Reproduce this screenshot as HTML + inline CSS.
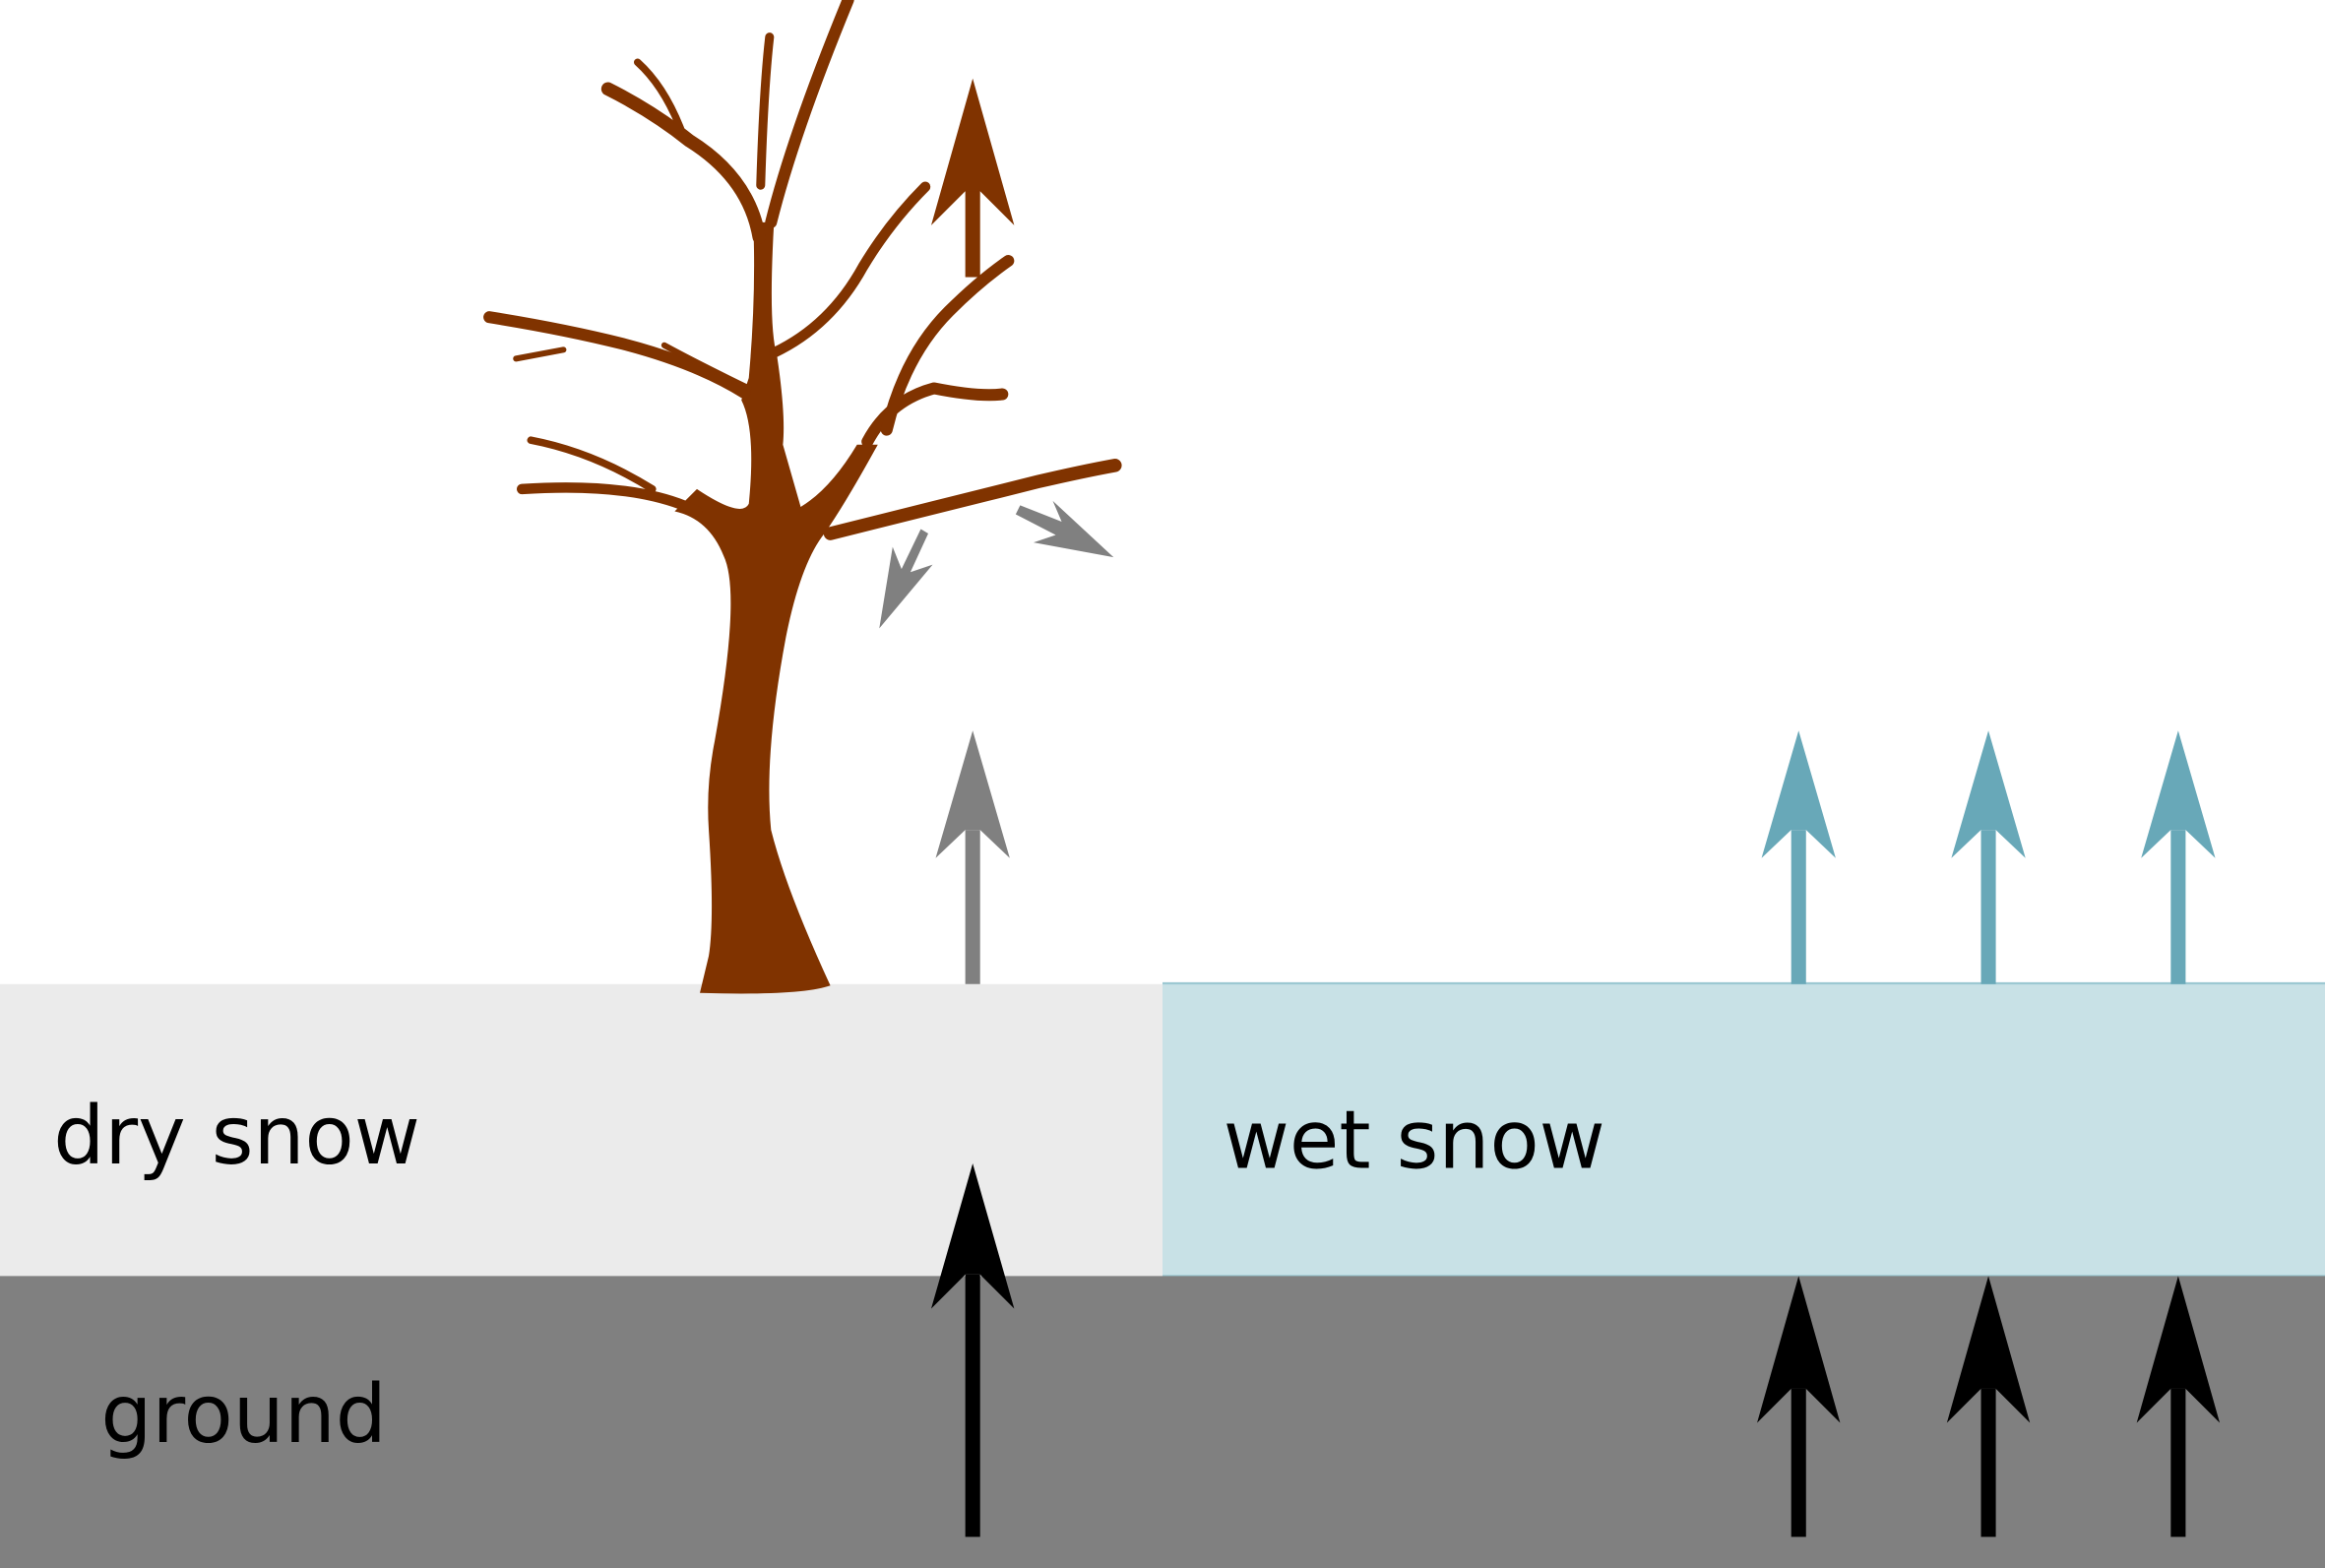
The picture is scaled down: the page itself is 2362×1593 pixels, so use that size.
<!DOCTYPE html>
<html><head><meta charset="utf-8"><style>
html,body{margin:0;padding:0;background:#fff;}
svg{display:block;}
text{font-family:"DejaVu Sans","Liberation Sans",sans-serif;}
</style></head><body>
<svg width="2362" height="1593" viewBox="0 0 1568 1058" preserveAspectRatio="none" xmlns="http://www.w3.org/2000/svg">
<rect x="0" y="0" width="1568" height="1058" fill="#fff"/>
<rect x="0" y="664" width="784" height="198" fill="#ebebeb"/>
<rect x="784" y="663" width="784" height="199" fill="#c8e1e6"/>
<line x1="784" y1="663.5" x2="1568" y2="663.5" stroke="#9cc8d2" stroke-width="1.5"/>
<line x1="784" y1="861" x2="1568" y2="861" stroke="#9cc8d2" stroke-width="1.5"/>
<rect x="0" y="861" width="1568" height="197" fill="#808080"/>

<text x="36" y="785" font-size="54.5" fill="#000">dry snow</text>
<text x="825" y="788" font-size="54.5" fill="#000">wet snow</text>
<text x="68" y="973" font-size="54.5" fill="#000">ground</text>

<!-- tree -->
<g fill="#803300" stroke="#803300" stroke-linecap="round" stroke-linejoin="round">
<path stroke="none" d="M472,670 L478,645 Q482,620 478,560 Q476,530 482,500 Q500,400 488,375 Q478,350 455,345 L470,330 Q500,350 505,340 Q510,290 500,270 L505,255 Q510,200 508,150 L522,150 Q518,220 524,240 Q530,280 528,300 L540,342 Q560,330 578,300 L592,300 Q570,340 556,360 Q540,380 530,430 Q515,510 520,560 Q530,600 560,665 Q540,672 472,670 Z"/>
<path fill="none" stroke-width="7" d="M470,345 Q430,325 352,330"/>
<path fill="none" stroke-width="5" d="M440,330 Q400,305 358,297"/>
<path fill="none" stroke-width="8" d="M502,265 Q470,245 420,232 Q380,222 330,214"/>
<path fill="none" stroke-width="4" d="M380,236 L348,242"/>
<path fill="none" stroke-width="4" d="M505,262 Q470,245 448,233"/>
<path fill="none" stroke-width="9" d="M512,160 Q505,120 465,95 Q440,75 410,60"/>
<path fill="none" stroke-width="5" d="M462,95 Q450,60 430,42"/>
<path fill="none" stroke-width="6" d="M513,125 Q515,60 519,25"/>
<path fill="none" stroke-width="8" d="M520,150 Q535,90 572,0"/>
<path fill="none" stroke-width="7" d="M522,238 Q560,220 582,180 Q600,150 624,126"/>
<path fill="none" stroke-width="8" d="M585,298 Q600,270 630,262 Q660,268 676,266"/>
<path fill="none" stroke-width="9" d="M560,360 Q640,340 700,325 Q730,318 752,314"/>
<path fill="none" stroke-width="8" d="M598,290 Q610,240 640,210 Q660,190 680,176"/>
</g>

<!-- brown arrow -->
<g fill="#803300">
<rect x="651" y="120" width="10" height="67"/>
<polygon points="656,53 684,152 661,129 651,129 628,152"/>
</g>

<!-- small gray arrows -->
<g fill="#808080">
<polygon points="593,424 629,381 614,386 626,360 621,357 608,384 602,369"/>
<polygon points="751,376 710,338 716,352 688,341 685,347 712,361 697,366"/>
</g>

<!-- gray arrow -->
<g fill="#808080">
<rect x="651" y="560" width="10" height="104"/>
<polygon points="656,493 681,579 661,560 651,560 631,579"/>
</g>

<!-- teal arrows -->
<g fill="#68a8b8">
<rect x="1208" y="560" width="10" height="104"/>
<polygon points="1213,493 1238,579 1218,560 1208,560 1188,579"/>
<rect x="1336" y="560" width="10" height="104"/>
<polygon points="1341,493 1366,579 1346,560 1336,560 1316,579"/>
<rect x="1464" y="560" width="10" height="104"/>
<polygon points="1469,493 1494,579 1474,560 1464,560 1444,579"/>
</g>

<!-- black arrows -->
<g fill="#000">
<rect x="651" y="860" width="10" height="177"/>
<polygon points="656,785 684,883 661,860 651,860 628,883"/>
<rect x="1208" y="937" width="10" height="100"/>
<polygon points="1213,861 1241,960 1218,937 1208,937 1185,960"/>
<rect x="1336" y="937" width="10" height="100"/>
<polygon points="1341,861 1369,960 1346,937 1336,937 1313,960"/>
<rect x="1464" y="937" width="10" height="100"/>
<polygon points="1469,861 1497,960 1474,937 1464,937 1441,960"/>
</g>
</svg>
</body></html>
